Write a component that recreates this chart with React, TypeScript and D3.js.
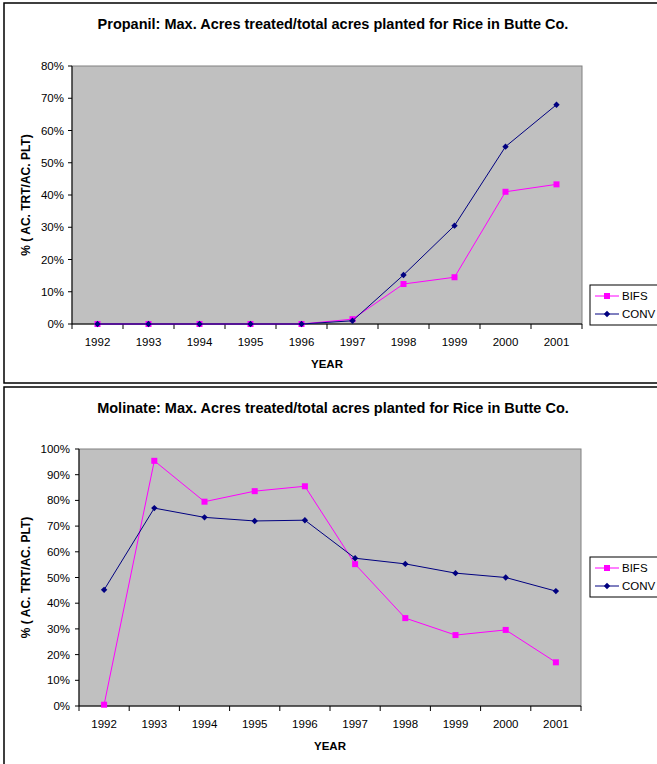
import * as d3 from "d3";

const years = ["1992", "1993", "1994", "1995", "1996", "1997", "1998", "1999", "2000", "2001"];

// Propanil (top chart), fractions of acres planted
const propanilBifs = [0, 0, 0, 0, 0, 0.015, 0.124, 0.145, 0.41, 0.433];
const propanilConv = [0, 0, 0, 0, 0, 0.01, 0.152, 0.305, 0.55, 0.68];
const propanilTicks = [0, 0.1, 0.2, 0.3, 0.4, 0.5, 0.6, 0.7, 0.8];

// Molinate (bottom chart)
const molinateBifs = [0.005, 0.954, 0.795, 0.836, 0.855, 0.552, 0.342, 0.276, 0.296, 0.17];
const molinateConv = [0.452, 0.77, 0.734, 0.72, 0.723, 0.575, 0.553, 0.517, 0.5, 0.447];
const molinateTicks = [0, 0.1, 0.2, 0.3, 0.4, 0.5, 0.6, 0.7, 0.8, 0.9, 1];

const BIFS = "#FF00FF";
const CONV = "#000080";
const FONT = "'Liberation Sans', Arial, sans-serif";

type PanelProps = {
  top: number;
  frameH: number;
  title: string;
  bifs: number[];
  conv: number[];
  ticks: number[];
  yMax: number;
  plot: { left: number; right: number; top: number; bottom: number };
  legendTop: number;
  yLabelRight: number;
};

const Panel = ({ top, frameH, title, bifs, conv, ticks, yMax, plot, legendTop, yLabelRight }: PanelProps) => {
  const x = d3.scaleBand().domain(years).range([plot.left, plot.right]);
  const y = d3.scaleLinear().domain([0, yMax]).range([plot.bottom, plot.top]);
  const cx = (i: number) => x(years[i])! + x.bandwidth() / 2;
  const line = d3
    .line<number>()
    .x((_, i) => cx(i))
    .y((d) => y(d));
  const fmt = d3.format(".0%");
  const diamond = (px: number, py: number, r = 3.2) =>
    `M${px},${py - r}L${px + r},${py}L${px},${py + r}L${px - r},${py}Z`;

  return (
    <g>
      <rect x={4} y={top} width={700} height={frameH} fill="white" stroke="black" strokeWidth={1.5} />
      <text x={333} y={top + 26} textAnchor="middle" fontFamily={FONT} fontWeight="bold" fontSize={14.5}>
        {title}
      </text>
      <rect
        x={plot.left}
        y={plot.top}
        width={plot.right - plot.left}
        height={plot.bottom - plot.top}
        fill="#C0C0C0"
        stroke="#808080"
        strokeWidth={1}
      />
      {/* y axis */}
      <line x1={plot.left} x2={plot.left} y1={plot.top} y2={plot.bottom} stroke="black" />
      {ticks.map((t) => (
        <g key={t}>
          <line x1={plot.left - 4} x2={plot.left} y1={y(t)} y2={y(t)} stroke="black" />
          <text
            x={yLabelRight}
            y={y(t)}
            dy="0.35em"
            textAnchor="end"
            fontFamily={FONT}
            fontSize={11.5}
          >
            {fmt(t)}
          </text>
        </g>
      ))}
      {/* x axis */}
      <line x1={plot.left} x2={plot.right} y1={plot.bottom} y2={plot.bottom} stroke="black" />
      {[...years.map((yr) => x(yr)!), plot.right].map((bx, i) => (
        <line key={i} x1={bx} x2={bx} y1={plot.bottom} y2={plot.bottom + 5} stroke="black" />
      ))}
      {years.map((yr, i) => (
        <text key={yr} x={cx(i)} y={plot.bottom + 22} textAnchor="middle" fontFamily={FONT} fontSize={11.5}>
          {yr}
        </text>
      ))}
      <text
        x={(plot.left + plot.right) / 2}
        y={plot.bottom + 44}
        textAnchor="middle"
        fontFamily={FONT}
        fontWeight="bold"
        fontSize={11.5}
      >
        YEAR
      </text>
      <text
        transform={`translate(30,${(plot.top + plot.bottom) / 2}) rotate(-90)`}
        textAnchor="middle"
        fontFamily={FONT}
        fontWeight="bold"
        fontSize={12}
      >
        % ( AC. TRT/AC. PLT)
      </text>
      {/* series */}
      <path d={line(bifs)!} fill="none" stroke={BIFS} strokeWidth={1} />
      {bifs.map((d, i) => (
        <rect key={i} x={cx(i) - 3} y={y(d) - 3} width={6} height={6} fill={BIFS} />
      ))}
      <path d={line(conv)!} fill="none" stroke={CONV} strokeWidth={1} />
      {conv.map((d, i) => (
        <path key={i} d={diamond(cx(i), y(d))} fill={CONV} />
      ))}
      {/* legend */}
      <rect x={590} y={legendTop} width={100} height={40} fill="white" stroke="black" strokeWidth={1} />
      <line x1={595} x2={619} y1={legendTop + 11} y2={legendTop + 11} stroke={BIFS} />
      <rect x={604} y={legendTop + 8} width={6} height={6} fill={BIFS} />
      <text x={622} y={legendTop + 11} dy="0.35em" fontFamily={FONT} fontSize={11.5}>
        BIFS
      </text>
      <line x1={595} x2={619} y1={legendTop + 29} y2={legendTop + 29} stroke={CONV} />
      <path d={diamond(607, legendTop + 29)} fill={CONV} />
      <text x={622} y={legendTop + 29} dy="0.35em" fontFamily={FONT} fontSize={11.5}>
        CONV
      </text>
    </g>
  );
};

export default function App() {
  return (
    <div style={{ position: "absolute", left: 0, top: 0 }}>
      <svg width={657} height={764} viewBox="0 0 657 764" style={{ display: "block" }}>
        <rect width={657} height={764} fill="white" />
        <Panel
          top={3}
          frameH={380}
          title="Propanil: Max. Acres treated/total acres planted for Rice in Butte Co."
          bifs={propanilBifs}
          conv={propanilConv}
          ticks={propanilTicks}
          yMax={0.8}
          plot={{ left: 72, right: 582, top: 66, bottom: 324 }}
          legendTop={285}
          yLabelRight={64}
        />
        <Panel
          top={387}
          frameH={400}
          title="Molinate: Max. Acres treated/total acres planted for Rice in Butte Co."
          bifs={molinateBifs}
          conv={molinateConv}
          ticks={molinateTicks}
          yMax={1}
          plot={{ left: 79, right: 581, top: 449, bottom: 706 }}
          legendTop={557}
          yLabelRight={70}
        />
      </svg>
    </div>
  );
}
